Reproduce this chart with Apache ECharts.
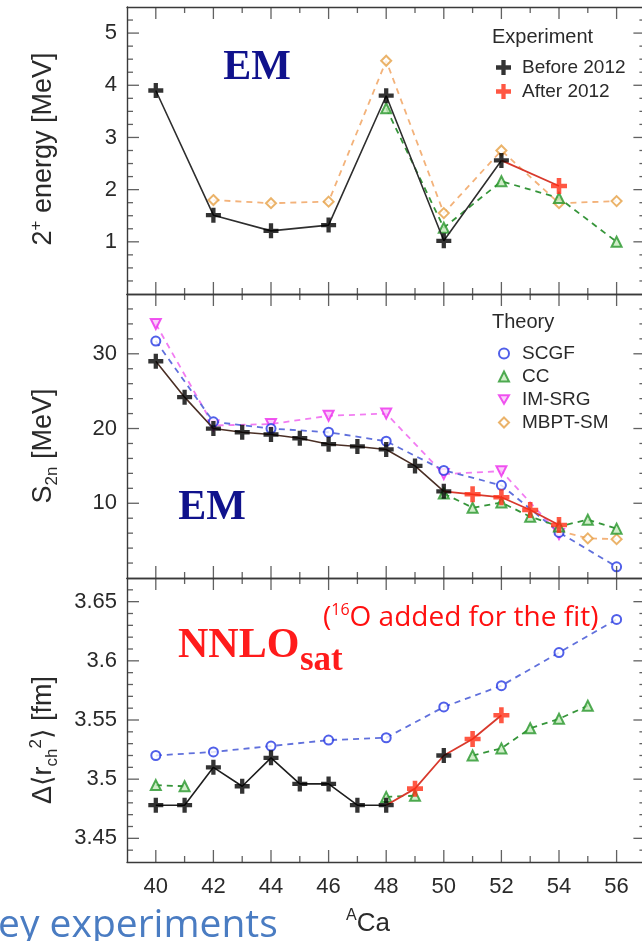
<!DOCTYPE html>
<html>
<head>
<meta charset="utf-8">
<script src="https://cdn.jsdelivr.net/npm/echarts@6/dist/echarts.min.js"></script>
<style>
  html, body { margin: 0; padding: 0; background: #ffffff; }
  #chart { width: 642px; height: 941px; }
</style>
</head>
<body>
<div id="chart"></div>
<script>
// Calcium isotopes, mass number A
const massNumbers = [40, 41, 42, 43, 44, 45, 46, 47, 48, 49, 50, 51, 52, 53, 54, 55, 56];
const massTicks = [40, 42, 44, 46, 48, 50, 52, 54, 56];

// First 2+ excitation energy [MeV]
const e2Before = [3.90, null, 1.51, null, 1.21, null, 1.32, null, 3.80, null, 1.02, null, 2.56, null, null, null, null];
const e2After  = [null, null, null, null, null, null, null, null, null, null, null, null, null, null, 2.07, null, null];
const e2Cc     = [null, null, null, null, null, null, null, null, 3.56, null, 1.27, null, 2.16, null, 1.84, null, 1.00];
const e2Mbpt   = [null, null, 1.80, null, 1.74, null, 1.77, null, 4.47, null, 1.55, null, 2.75, null, 1.74, null, 1.78];
const e2Ticks  = [1, 2, 3, 4, 5];

// Two-neutron separation energy S2n [MeV]
const s2nBefore = [29.0, 24.2, 20.0, 19.5, 19.2, 18.7, 17.9, 17.6, 17.2, 15.0, 11.6, null, null, null, null, null, null];
const s2nAfter  = [null, null, null, null, null, null, null, null, null, null, null, 11.2, 10.8, 9.1, 7.1, null, null];
const s2nScgf   = [31.7, null, 20.9, null, 20.0, null, 19.5, null, 18.3, null, 14.4, null, 12.4, null, 6.1, null, 1.5];
const s2nCc     = [null, null, null, null, null, null, null, null, null, null, 11.3, 9.4, 10.1, 8.2, 6.9, 7.8, 6.6];
const s2nImsrg  = [34.0, null, 20.4, null, 20.6, null, 21.7, null, 22.0, null, 13.9, null, 14.3, null, 5.9, null, null];
const s2nMbpt   = [null, null, null, null, null, null, null, null, null, null, null, null, null, null, 6.3, 5.3, 5.2];
const s2nTicks  = [10, 20, 30];

// Charge radius [fm]
const radiusBefore = [3.478, 3.478, 3.510, 3.494, 3.518, 3.496, 3.496, 3.478, 3.478, null, 3.520, null, null, null, null, null, null];
const radiusAfter  = [null, null, null, null, null, null, null, null, null, 3.492, null, 3.534, 3.554, null, null, null, null];
const radiusScgf   = [3.520, null, 3.523, null, 3.528, null, 3.533, null, 3.535, null, 3.561, null, 3.579, null, 3.607, null, 3.635];
const radiusCc     = [3.495, 3.494, null, null, null, null, null, null, 3.485, 3.486, null, 3.520, 3.526, 3.543, 3.551, 3.562, null];
const radiusTicks  = [3.45, 3.5, 3.55, 3.6, 3.65];

const SANS = '"Liberation Sans", Arial, Helvetica, sans-serif';
const SERIF = '"Liberation Serif", "Times New Roman", serif';
const CALIBRI_LIKE = '"Open Sans", Lato, sans-serif';
const AXIS_COLOR = '#3a3a3a';
const TEXT_COLOR = '#2a2a2a';
const PLUS = 'path://M5,0H9V5H14V9H9V14H5V9H0V5H5Z';
const DOWN_TRIANGLE = 'path://M0,0L20,0L10,17.3Z';
const X_MIN = 39, X_MAX = 57;
const MAJOR_LEN = 12, MINOR_LEN = 6, TICK_W = 1.3;

const modelStyle = {
  'SCGF':    { symbol: 'emptyCircle', size: 9,  stroke: '#2437e4', fill: '#ffffff', line: '#6070dc' },
  'CC':      { symbol: 'triangle',    size: 10, stroke: '#27962a', fill: '#c6eabd', line: '#36953a' },
  'IM-SRG':  { symbol: DOWN_TRIANGLE, size: 10, stroke: '#ec2cec', fill: '#f9c6f9', line: '#f27cf2' },
  'MBPT-SM': { symbol: 'diamond',     size: 10, stroke: '#e6a045', fill: '#ffffff', line: '#f3b27a' }
};

const panels = [
  { top: 7,   height: 287, min: 0,    max: 5.5,  ticks: e2Ticks,     minorStep: 0.25,
    before: e2Before, after: e2After, blackLine: '#2e2e2e',
    models: [['MBPT-SM', e2Mbpt, true], ['CC', e2Cc, true]] },
  { top: 294, height: 284, min: 0,    max: 38,   ticks: s2nTicks,    minorStep: 2,
    before: s2nBefore, after: s2nAfter, blackLine: '#4a2f25',
    models: [['MBPT-SM', s2nMbpt, true], ['IM-SRG', s2nImsrg, true], ['SCGF', s2nScgf, true], ['CC', s2nCc, true]] },
  { top: 578, height: 284, min: 3.43, max: 3.67, ticks: radiusTicks, minorStep: 0.01,
    before: radiusBefore, after: radiusAfter, blackLine: '#1e1e1e',
    models: [['SCGF', radiusScgf, true], ['CC', radiusCc, false]] }
];

function minorValues(min, max, step, majors) {
  const out = [];
  const start = Math.ceil(min / step - 1e-9);
  for (let k = start; k * step <= max + 1e-9; k++) {
    const v = +(k * step).toFixed(4);
    if (v <= min || v >= max) continue;
    if (majors.some(m => Math.abs(m - v) < 1e-9)) continue;
    out.push(v);
  }
  return out;
}

function frameAxis(gi, pos, min, max, labelValues, label) {
  return {
    type: 'value', gridIndex: gi, position: pos, min: min, max: max,
    axisLine: { show: true, onZero: false, lineStyle: { color: AXIS_COLOR, width: 1.4 } },
    splitLine: { show: false },
    axisTick: { show: false },
    axisLabel: label ? Object.assign({ show: true, customValues: labelValues }, label) : { show: false }
  };
}

const grids = [], xAxes = [], yAxes = [], series = [];
const tickLabel = { color: TEXT_COLOR, fontFamily: SANS, fontSize: 22 };
const massMinor = massNumbers.filter(a => massTicks.indexOf(a) < 0);

function pairs(vals) {
  return massNumbers.map((a, i) => [a, vals[i] == null ? '-' : vals[i]]);
}
function points(vals) {
  return massNumbers.map((a, i) => vals[i] == null ? null : [a, vals[i]]).filter(Boolean);
}

// inward frame tick marks, drawn as thin bars anchored on the frame edges
function tickSeries(xi, yi, data, size, offset) {
  return {
    type: 'scatter', name: 'frame ticks', xAxisIndex: xi, yAxisIndex: yi, z: 6,
    data: data, symbol: 'rect', symbolSize: size, symbolOffset: offset, clip: false,
    itemStyle: { color: AXIS_COLOR }, silent: true, animation: false, tooltip: { show: false }
  };
}

panels.forEach((p, gi) => {
  const last = gi === panels.length - 1;
  grids.push({ left: 127, width: 518.4, top: p.top, height: p.height, outerBoundsMode: 'none' });
  const xi = xAxes.length, yi = yAxes.length;
  xAxes.push(frameAxis(gi, 'bottom', X_MIN, X_MAX, massTicks, last ? Object.assign({ margin: 14 }, tickLabel) : null));
  xAxes.push(frameAxis(gi, 'top', X_MIN, X_MAX, massTicks, null));
  yAxes.push(frameAxis(gi, 'left', p.min, p.max, p.ticks, Object.assign({ margin: 10 }, tickLabel)));
  yAxes.push(frameAxis(gi, 'right', p.min, p.max, p.ticks, null));

  // ticks along bottom/top edges (mass numbers) and left/right edges (values)
  const yMinor = minorValues(p.min, p.max, p.minorStep, p.ticks);
  [[massTicks, MAJOR_LEN], [massMinor, MINOR_LEN]].forEach(([vals, len]) => {
    series.push(tickSeries(xi, yi, vals.map(a => [a, p.min]), [TICK_W, len], [0, -len / 2]));
    series.push(tickSeries(xi, yi, vals.map(a => [a, p.max]), [TICK_W, len], [0, len / 2]));
  });
  [[p.ticks, MAJOR_LEN], [yMinor, MINOR_LEN]].forEach(([vals, len]) => {
    series.push(tickSeries(xi, yi, vals.map(v => [X_MIN, v]), [len, TICK_W], [len / 2, 0]));
    series.push(tickSeries(xi, yi, vals.map(v => [X_MAX, v]), [len, TICK_W], [-len / 2, 0]));
  });

  // theory curves: dashed lines, then open markers
  p.models.forEach(([name, vals, connect]) => {
    const st = modelStyle[name];
    series.push({
      type: 'line', name: name + ' curve', xAxisIndex: xi, yAxisIndex: yi, z: 2,
      data: pairs(vals), connectNulls: connect, showSymbol: false, symbol: 'none',
      lineStyle: { color: st.line, width: 1.8, type: [6, 5] }, silent: true, animation: false
    });
    const isEmpty = st.symbol.indexOf('empty') === 0;
    series.push({
      type: 'scatter', name: name, xAxisIndex: xi, yAxisIndex: yi, z: 3,
      data: points(vals), symbol: st.symbol, symbolSize: st.size,
      itemStyle: isEmpty ? { color: st.stroke, borderWidth: 2.2 }
                         : { color: st.fill, borderColor: st.stroke, borderWidth: 2 },
      animation: false
    });
  });

  // measured values: black line up to the last point before the first new measurement, red after
  const all = p.before.map((v, i) => v != null ? v : p.after[i]);
  const firstAfter = p.after.findIndex(v => v != null);
  let split = firstAfter - 1;
  while (split > 0 && all[split] == null) split--;
  const blackVals = all.map((v, i) => i <= split ? v : null);
  const redVals = all.map((v, i) => i >= split ? v : null);
  series.push({
    type: 'line', name: 'before line', xAxisIndex: xi, yAxisIndex: yi, z: 4,
    data: pairs(blackVals), connectNulls: true, showSymbol: false, symbol: 'none',
    lineStyle: { color: p.blackLine, width: 1.6 }, silent: true, animation: false
  });
  series.push({
    type: 'line', name: 'after line', xAxisIndex: xi, yAxisIndex: yi, z: 4,
    data: pairs(redVals), connectNulls: true, showSymbol: false, symbol: 'none',
    lineStyle: { color: '#d8392c', width: 1.8 }, silent: true, animation: false
  });
  series.push({
    type: 'scatter', name: 'Before 2012', xAxisIndex: xi, yAxisIndex: yi, z: 5,
    data: points(p.before), symbol: PLUS, symbolSize: 15,
    itemStyle: { color: '#000000' }, animation: false
  });
  series.push({
    type: 'scatter', name: 'After 2012', xAxisIndex: xi, yAxisIndex: yi, z: 5,
    data: points(p.after), symbol: PLUS, symbolSize: 16,
    itemStyle: { color: '#ff2d14' }, animation: false
  });
});

const sup = { fontFamily: SANS, fontSize: 17, verticalAlign: 'top', lineHeight: 15, fill: TEXT_COLOR };
const sub = { fontFamily: SANS, fontSize: 17, verticalAlign: 'bottom', lineHeight: 15, fill: TEXT_COLOR };
const main = { fontFamily: '"Liberation Sans", "DejaVu Sans", sans-serif', fontSize: 27, lineHeight: 33, fill: TEXT_COLOR };

const texts = [
  // axis titles
  { type: 'text', x: 44, y: 149, rotation: Math.PI / 2, silent: true,
    style: { text: '{m|2}{p|+}{m| energy [MeV]}', align: 'center', verticalAlign: 'middle',
             rich: { m: main, p: sup } } },
  { type: 'text', x: 44, y: 446, rotation: Math.PI / 2, silent: true,
    style: { text: '{m|S}{s|2n}{m| [MeV]}', align: 'center', verticalAlign: 'middle',
             rich: { m: main, s: sub } } },
  { type: 'text', x: 44, y: 740, rotation: Math.PI / 2, silent: true,
    style: { text: '{m|\u0394\u27E8r}{s|ch}{p|2}{m|\u27E9 [fm]}', align: 'center', verticalAlign: 'middle',
             rich: { m: main, s: sub, p: sup } } },
  { type: 'text', x: 368, y: 924, silent: true,
    style: { text: '{p|A}{m|Ca}', align: 'center', verticalAlign: 'middle',
             rich: { m: Object.assign({}, main, { fontSize: 26 }), p: Object.assign({}, sup, { fontSize: 16 }) } } },

  // legend headings
  { type: 'text', x: 492, y: 37, silent: true,
    style: { text: 'Experiment', fontFamily: SANS, fontSize: 20, fill: TEXT_COLOR, verticalAlign: 'middle' } },
  { type: 'text', x: 492, y: 322, silent: true,
    style: { text: 'Theory', fontFamily: SANS, fontSize: 20, fill: TEXT_COLOR, verticalAlign: 'middle' } },

  // interaction labels
  { type: 'text', x: 257, y: 68, silent: true,
    style: { text: 'EM', fontFamily: SERIF, fontWeight: 'bold', fontSize: 42, fill: '#10128c',
             align: 'center', verticalAlign: 'middle' } },
  { type: 'text', x: 212, y: 508, silent: true,
    style: { text: 'EM', fontFamily: SERIF, fontWeight: 'bold', fontSize: 42, fill: '#10128c',
             align: 'center', verticalAlign: 'middle' } },
  { type: 'text', x: 178, y: 646, silent: true,
    style: { text: 'NNLO', fontFamily: SERIF, fontWeight: 'bold', fontSize: 42, fill: '#ff1b1b',
             verticalAlign: 'middle' } },
  { type: 'text', x: 300, y: 661, silent: true,
    style: { text: 'sat', fontFamily: SERIF, fontWeight: 'bold', fontSize: 35, fill: '#ff1b1b',
             verticalAlign: 'middle' } },
  { type: 'text', x: 323, y: 618, silent: true,
    style: { text: '{a|(}{s|16}{a|O added for the fit)}', verticalAlign: 'middle',
             rich: { a: { fontFamily: CALIBRI_LIKE, fontSize: 28, fill: '#ff1010', lineHeight: 32 },
                     s: { fontFamily: CALIBRI_LIKE, fontSize: 16, fill: '#ff1010', verticalAlign: 'top', lineHeight: 16 } } } },

  // slide caption
  { type: 'text', x: -2, y: 926, silent: true,
    style: { text: 'ey experiments', fontFamily: CALIBRI_LIKE, fontSize: 39,
             fill: '#4a7cc2', verticalAlign: 'middle' } }
];

const chart = echarts.init(document.getElementById('chart'), null, { renderer: 'canvas' });
chart.setOption({
  backgroundColor: '#ffffff',
  animation: false,
  grid: grids,
  xAxis: xAxes,
  yAxis: yAxes,
  legend: [
    { data: ['Before 2012', 'After 2012'], orient: 'vertical', left: 491, top: 53,
      itemWidth: 15, itemHeight: 15, itemGap: 5, selectedMode: false,
      textStyle: { fontFamily: SANS, fontSize: 19, color: TEXT_COLOR, padding: [0, 0, 0, 6] } },
    { data: ['SCGF', 'CC', 'IM-SRG', 'MBPT-SM'], orient: 'vertical', left: 493, top: 339,
      itemWidth: 10, itemHeight: 10, itemGap: 4, selectedMode: false,
      textStyle: { fontFamily: SANS, fontSize: 19, color: TEXT_COLOR, padding: [0, 0, 0, 8] } }
  ],
  series: series,
  graphic: texts
});
</script>
</body>
</html>
